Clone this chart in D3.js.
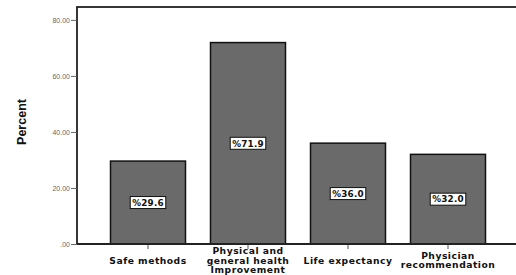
<!DOCTYPE html>
<html><head><meta charset="utf-8">
<script src="https://cdn.jsdelivr.net/npm/d3@7"></script>
<style>body{margin:0;background:#fff}svg{display:block}</style>
</head><body><svg id="c" width="516" height="275"></svg>
<script>
const categories = ["Safe methods", "Physical and\ngeneral health\nImprovement", "Life expectancy", "Physician\nrecommendation"];
const values = [29.6, 71.9, 36.0, 32.0];
const yTicks = [0, 20, 40, 60, 80];
const yTickLabels = [".00", "20.00", "40.00", "60.00", "80.00"];
const yTitle = "Percent";

const svg = d3.select("#c");
const x = d3.scaleBand().domain(categories).range([98, 498]).paddingInner(0.25).paddingOuter(0.125);
const y = d3.scaleLinear().domain([0, 84.6]).range([244, 7]);

// frame
svg.append("rect").attr("x", 77).attr("y", 7).attr("width", 445).attr("height", 237)
  .attr("fill", "none").attr("stroke", "#222").attr("stroke-width", 1.8);

// y axis
const ya = svg.append("g").attr("transform", "translate(77,0)")
  .call(d3.axisLeft(y).tickValues(yTicks).tickSize(6).tickFormat((d, i) => yTickLabels[i]));
ya.select(".domain").remove();
ya.selectAll(".tick line").attr("stroke", "#666");
ya.selectAll(".tick text").attr("fill", "#666").attr("font-size", 7).attr("font-family", "Liberation Sans, Arial, sans-serif").attr("x", -7);

svg.append("text").attr("transform", "translate(26,122) rotate(-90)")
  .attr("text-anchor", "middle").attr("font-family", "Liberation Sans Narrow, Liberation Sans, sans-serif")
  .attr("font-weight", "bold").attr("font-size", 12.5).attr("fill", "#111").text(yTitle);

// bars
svg.selectAll("rect.bar").data(values).join("rect").attr("class", "bar")
  .attr("x", (d, i) => x(categories[i])).attr("width", x.bandwidth())
  .attr("y", d => y(d)).attr("height", d => y(0) - y(d))
  .attr("fill", "#6a6a6a").attr("stroke", "#111").attr("stroke-width", 1.5);

// x axis
const xa = svg.append("g").attr("transform", "translate(0,244)")
  .call(d3.axisBottom(x).tickSize(5).tickFormat(""));
xa.select(".domain").remove();
xa.selectAll(".tick line").attr("stroke", "#555");

svg.append("line").attr("x1", 77).attr("x2", 516).attr("y1", 244).attr("y2", 244).attr("stroke", "#222").attr("stroke-width", 1.8);

// x labels
categories.forEach(c => {
  const lines = c.split("\n");
  const cx = x(c) + x.bandwidth() / 2;
  const t = svg.append("text").attr("text-anchor", "middle").attr("font-family", "DejaVu Sans, sans-serif")
    .attr("font-weight", "bold").attr("font-size", 9.2).attr("letter-spacing", 0.5).attr("fill", "#111");
  const startY = 263.5 - (lines.length - 1) * 4.9;
  lines.forEach((l, k) => t.append("tspan").attr("x", cx).attr("y", startY + k * 9.8).text(l));
});

// value labels
values.forEach((v, i) => {
  const cx = x(categories[i]) + x.bandwidth() / 2;
  const cy = (y(v) + y(0)) / 2;
  const g = svg.append("g");
  const t = g.append("text").attr("x", cx).attr("y", cy + 3.3).attr("text-anchor", "middle")
    .attr("font-family", "DejaVu Sans, sans-serif").attr("font-weight", "bold").attr("font-size", 8.8)
    .attr("letter-spacing", 0.2).attr("fill", "#111").text("%" + v.toFixed(1));
  const b = t.node().getBBox();
  g.insert("rect", "text").attr("x", b.x - 2).attr("y", cy - 6).attr("width", b.width + 4).attr("height", 12)
    .attr("fill", "#fff").attr("stroke", "#111").attr("stroke-width", 1);
});
</script></body></html>
